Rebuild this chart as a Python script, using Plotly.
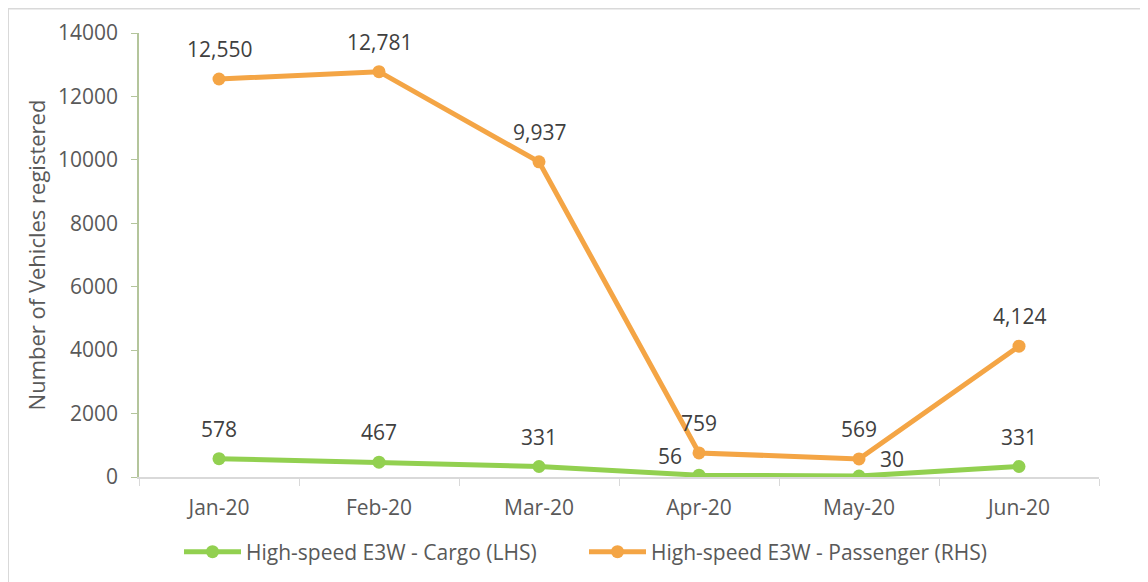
import plotly.graph_objects as go

months = ["Jan-20", "Feb-20", "Mar-20", "Apr-20", "May-20", "Jun-20"]
cargo = [578, 467, 331, 56, 30, 331]
passenger = [12550, 12781, 9937, 759, 569, 4124]
cargo_name = "High-speed E3W - Cargo (LHS)"
passenger_name = "High-speed E3W - Passenger (RHS)"
y_ticks = [0, 2000, 4000, 6000, 8000, 10000, 12000, 14000]

GREEN = "#92D050"
ORANGE = "#F4A545"
FONT = "Open Sans"
TXT = "#404040"

fig = go.Figure()
fig.add_trace(go.Scatter(x=months, y=cargo, name=cargo_name, mode="lines+markers",
                         line=dict(color=GREEN, width=5), marker=dict(size=13, color=GREEN)))
fig.add_trace(go.Scatter(x=months, y=passenger, name=passenger_name, mode="lines+markers",
                         line=dict(color=ORANGE, width=5), marker=dict(size=13, color=ORANGE)))

# data labels
cargo_shift = {3: (-29, 19), 4: (33, 17)}
for i, (m, v) in enumerate(zip(months, cargo)):
    xs, ys = cargo_shift.get(i, (0, 30))
    fig.add_annotation(x=m, y=v, text=f"{v:,}", showarrow=False, xshift=xs, yshift=ys,
                       font=dict(family=FONT, size=21, color=TXT))
for i, (m, v) in enumerate(zip(months, passenger)):
    fig.add_annotation(x=m, y=v, text=f"{v:,}", showarrow=False, yshift=30,
                       font=dict(family=FONT, size=21, color=TXT))

# the figure is drawn 8px inside the page, so sizes are reduced by 8
FW, FH = 1140, 574
L, R, T, B = 131, 49, 25, 105
W, H = FW - L - R, FH - T - B
fig.add_shape(type="line", xref="paper", yref="paper",
              x0=-L / W, x1=(FW - L) / W, y0=1 + T / H, y1=1 + T / H,
              line=dict(color="#D9D9D9", width=3))
fig.add_shape(type="line", xref="paper", yref="paper",
              x0=-L / W, x1=-L / W, y0=1 + T / H, y1=-(B + 5) / H,
              line=dict(color="#D9D9D9", width=2))

fig.update_layout(
    width=FW, height=FH,
    margin=dict(l=L, r=R, t=T, b=B, autoexpand=False),
    paper_bgcolor="white", plot_bgcolor="white",
    font=dict(family=FONT, color="#595959"),
    showlegend=True,
    legend=dict(orientation="h", x=(171 - L) / W, xanchor="left", y=-0.1227, yanchor="top",
                entrywidth=333, entrywidthmode="pixels", itemwidth=57,
                font=dict(family=FONT, size=21, color="#595959")),
)
fig.update_xaxes(type="category", range=[-0.5, len(months) - 0.5],
                 showline=True, linecolor="#D9D9D9", linewidth=1.5,
                 ticks="outside", tickson="boundaries", ticklen=7, tickcolor="#D9D9D9",
                 showgrid=False, tickfont=dict(family=FONT, size=21, color="#595959"),
                 ticklabelstandoff=11, automargin=False)
fig.update_yaxes(range=[0, 14000], tickvals=y_ticks, ticktext=[str(t) for t in y_ticks],
                 showline=True, linecolor="#B4C59C", linewidth=1.5, ticks="outside",
                 ticklen=6, tickcolor="#B4C59C", showgrid=False, zeroline=False,
                 automargin=False, ticklabelstandoff=9,
                 tickfont=dict(family=FONT, size=21, color="#595959"),
                 title=dict(text="Number of Vehicles registered", standoff=6,
                            font=dict(family=FONT, size=22, color="#595959")))

fig.write_html("out.html")
